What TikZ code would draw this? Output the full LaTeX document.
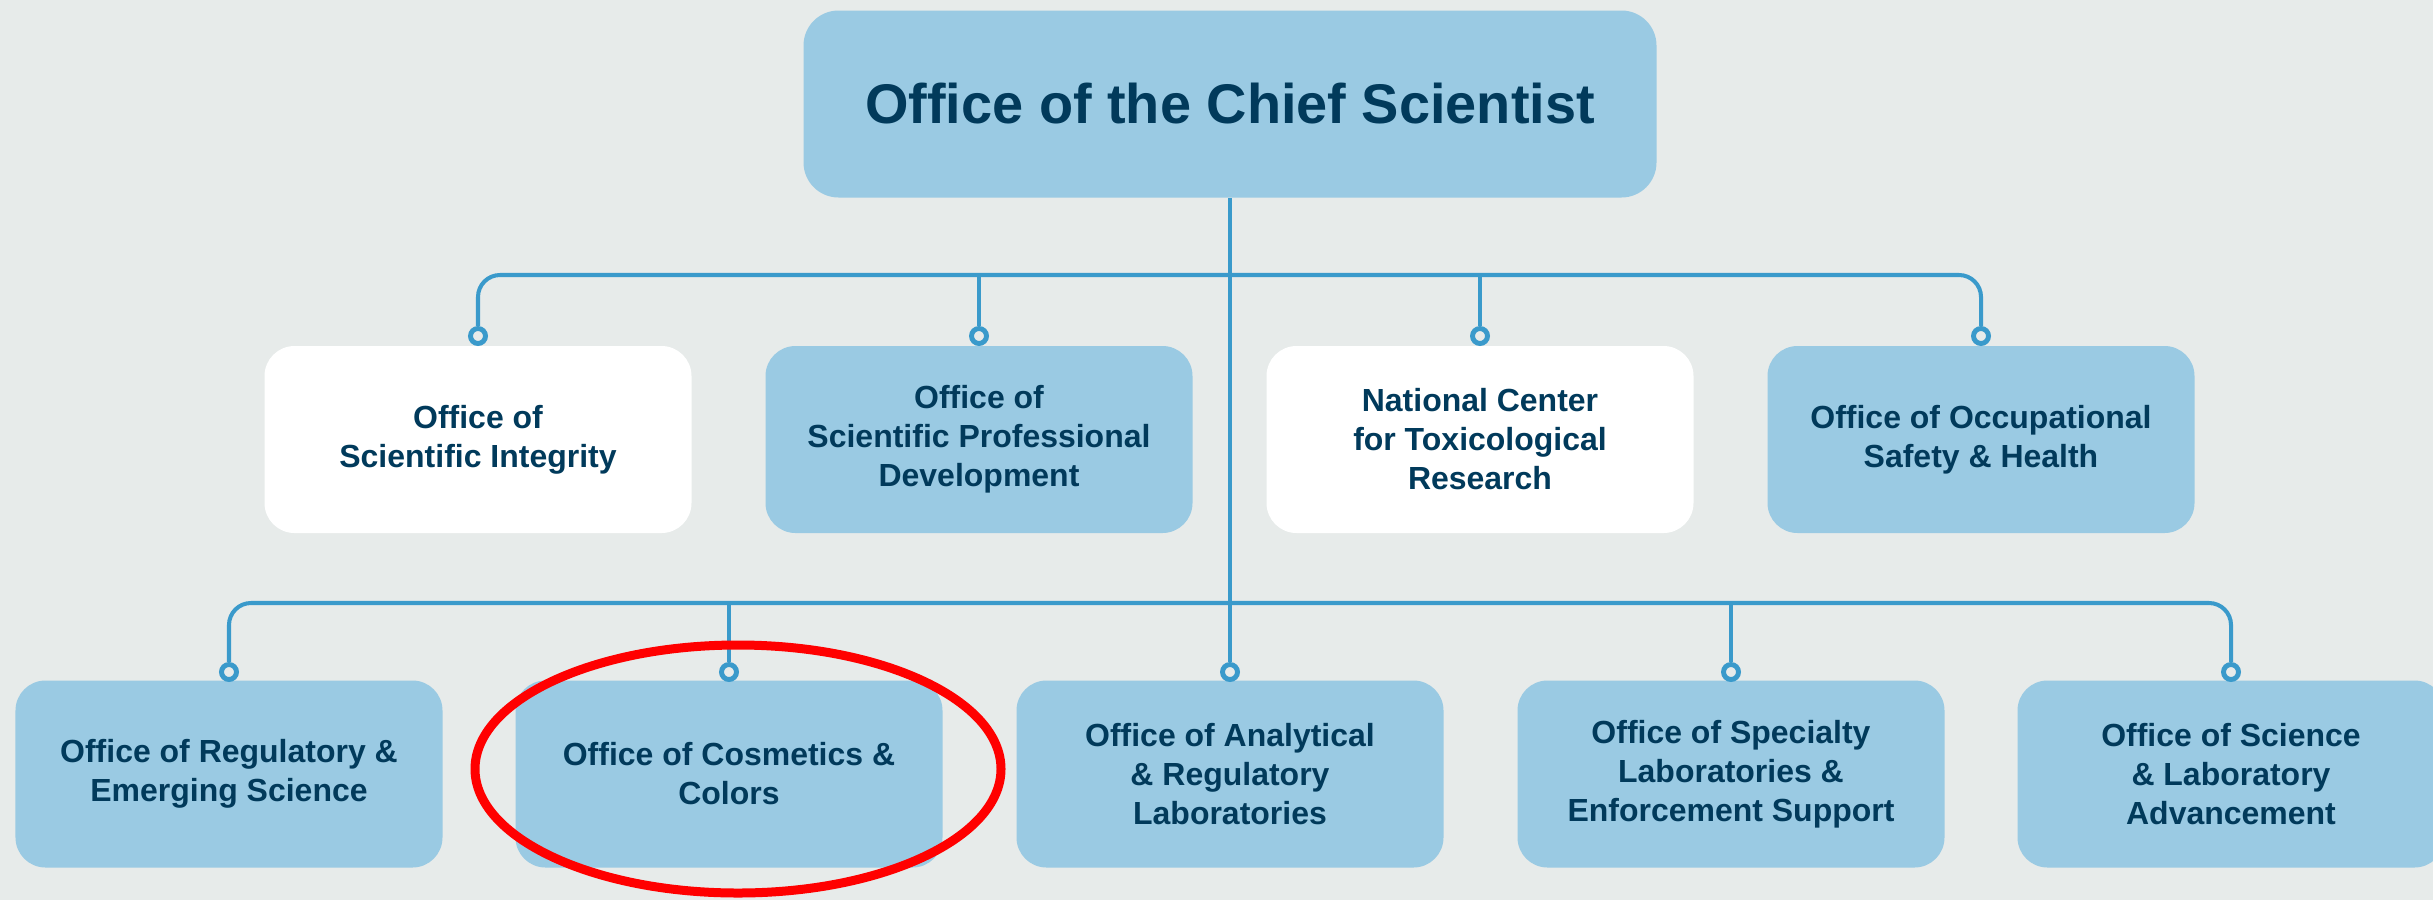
\documentclass[tikz,border=0pt]{standalone}
\usepackage{fontspec}
\setmainfont{Liberation Sans}
\usetikzlibrary{shapes,arrows}
\definecolor{PageGrey}{RGB}{231,235,234}
\definecolor{BoxBlue}{RGB}{154,202,227}
\definecolor{TextNavy}{RGB}{1,58,91}
\definecolor{LineBlue}{RGB}{58,154,203}
\definecolor{MarkRed}{RGB}{255,0,0}

\begin{document}
\begin{tikzpicture}
		\tikzstyle{office}=[shape=rectangle, rounded corners=0.3cm, fill=BoxBlue, text=TextNavy, minimum width=4.27cm, minimum height=1.87cm, inner sep=0pt, align=center, font=\bfseries\fontsize{9.1}{11.1}\selectfont];
		\tikzstyle{plain}=[office, fill=white];
		\tikzstyle{ring}=[shape=circle, draw=LineBlue, fill=PageGrey, line width=1.4pt, minimum size=0.15cm, inner sep=0pt];
		\tikzstyle{bus}=[draw=LineBlue, line width=1.15pt, rounded corners=0.22cm];
		\tikzstyle{drop}=[draw=LineBlue, line width=0.95pt];
		\useasboundingbox (0,0) rectangle (24.33,-9);
		\fill[PageGrey] (0,0) rectangle (24.33,-9);
		\node [office, minimum width=8.53cm, rounded corners=0.35cm, font=\bfseries\fontsize{15.9}{19}\selectfont] (root) at (12.30,-1.04) {Office of the Chief Scientist};
		\node [plain] (n01) at (4.78,-4.395) {Office of\\Scientific Integrity};
		\node [office] (n02) at (9.79,-4.395) {Office of\\Scientific Professional\\Development};
		\node [plain] (n03) at (14.80,-4.395) {National Center\\for Toxicological\\Research};
		\node [office] (n04) at (19.81,-4.395) {Office of Occupational\\Safety \& Health};
		\node [office] (n11) at (2.29,-7.74) {Office of Regulatory \&\\Emerging Science};
		\node [office] (n12) at (7.29,-7.74) {Office of Cosmetics \&\\Colors};
		\node [office] (n13) at (12.30,-7.74) {Office of Analytical\\\& Regulatory\\Laboratories};
		\node [office] (n14) at (17.31,-7.74) {Office of Specialty\\Laboratories \&\\Enforcement Support};
		\node [office] (n15) at (22.31,-7.74) {Office of Science\\\& Laboratory\\Advancement};
		\node [ring] (k01) at (4.78,-3.36) {};
		\node [ring] (k02) at (9.79,-3.36) {};
		\node [ring] (k03) at (14.80,-3.36) {};
		\node [ring] (k04) at (19.81,-3.36) {};
		\node [ring] (k11) at (2.29,-6.72) {};
		\node [ring] (k12) at (7.29,-6.72) {};
		\node [ring] (k13) at (12.30,-6.72) {};
		\node [ring] (k14) at (17.31,-6.72) {};
		\node [ring] (k15) at (22.31,-6.72) {};
		\coordinate (t0) at (12.30,-2.75);
		\coordinate (b0) at (12.30,-6.03);
		\draw[drop] (root) -- (k13);
		\draw[bus] (k01) |- (t0) -| (k04);
		\draw[drop] (k02) -- (k02 |- t0);
		\draw[drop] (k03) -- (k03 |- t0);
		\draw[bus] (k11) |- (b0) -| (k15);
		\draw[drop] (k12) -- (k12 |- b0);
		\draw[drop] (k14) -- (k14 |- b0);
		\draw[MarkRed, line width=0.09cm] (7.38,-7.69) ellipse (2.63cm and 1.24cm);
	\end{tikzpicture}
\end{document}
